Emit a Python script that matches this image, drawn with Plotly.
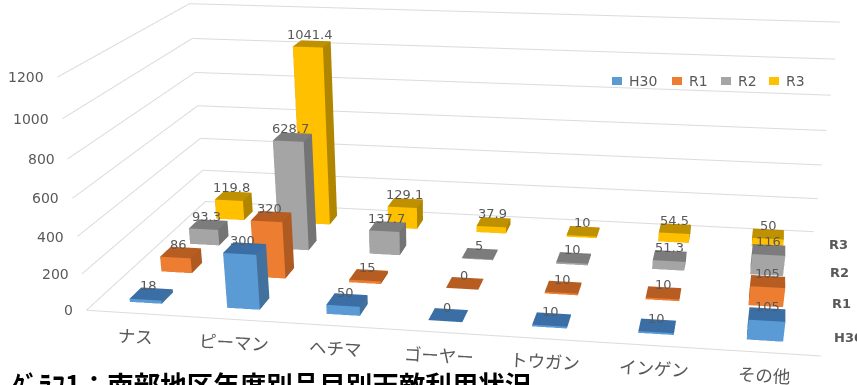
import numpy as np
import plotly.graph_objects as go

categories = ["ナス", "ピーマン", "ヘチマ", "ゴーヤー", "トウガン", "インゲン", "その他"]
series_names = ["H30", "R1", "R2", "R3"]
h30 = [18, 300, 50, 0, 10, 10, 105]
r1 = [86, 320, 15, 0, 10, 10, 105]
r2 = [93.3, 628.7, 137.7, 5, 10, 51.3, 116]
r3 = [119.8, 1041.4, 129.1, 37.9, 10, 54.5, 50]
z_ticks = [0, 200, 400, 600, 800, 1000, 1200]
title_text = "ｸﾞﾗﾌ1：南部地区年度別品目別天敵利用状況"

series_values = [h30, r1, r2, r3]
front_colors = ["#5B9BD5", "#ED7D31", "#A5A5A5", "#FFC000"]
top_colors = ["#3A6EA5", "#B85D22", "#7C7C7C", "#BF9000"]
side_colors = ["#41719C", "#AE5A21", "#747474", "#B08600"]

PAGE_W, PAGE_H = 857, 1300
TEXT_GREY = "#595959"
GRID_GREY = "#DBDBDB"
NUM_FONT = "DejaVu Sans"
JP_FONT = "Noto Sans CJK JP"
BAR_W, BAR_D = 0.33, 0.36
LEGEND_ICON_X = [612, 672, 721, 769]
LEGEND_MID_Y = 81


def px(pixel_x):
    return pixel_x / PAGE_W


def py(pixel_y):
    """Paper fraction for a distance from the top of the page."""
    return 1 - pixel_y / PAGE_H


def bar_mesh(values, front, top, side):
    xs, ys, zs, i, j, k, colors = [], [], [], [], [], [], []
    quads = [((0, 1, 5, 4), front), ((4, 5, 6, 7), top), ((1, 2, 6, 5), side),
             ((0, 3, 7, 4), side), ((3, 2, 6, 7), side)]
    for cx, cy, h in values:
        x0, x1 = cx - BAR_W / 2, cx + BAR_W / 2
        y0, y1 = cy - BAR_D / 2, cy + BAR_D / 2
        base = len(xs)
        xs += [x0, x1, x1, x0, x0, x1, x1, x0]
        ys += [y0, y0, y1, y1, y0, y0, y1, y1]
        zs += [0, 0, 0, 0, h, h, h, h]
        for (a, b, c, d), col in quads:
            i += [base + a, base + a]
            j += [base + b, base + c]
            k += [base + c, base + d]
            colors += [col, col]
    return dict(x=xs, y=ys, z=zs, i=i, j=j, k=k, facecolor=colors)


fig = go.Figure()

# gridlines run along the left wall and then the back wall
for t in z_ticks:
    fig.add_trace(go.Scatter3d(x=[0, 0, 7], y=[0, 4, 4], z=[t, t, t], mode="lines",
                               line=dict(color=GRID_GREY, width=2), hoverinfo="skip",
                               showlegend=False))
fig.add_trace(go.Scatter3d(x=[0, 7], y=[0, 0], z=[0, 0], mode="lines",
                           line=dict(color=GRID_GREY, width=2), hoverinfo="skip",
                           showlegend=False))

labels = []
for s, (name, vals) in enumerate(zip(series_names, series_values)):
    cells = [(c + 0.5, s + 0.5, v) for c, v in enumerate(vals)]
    fig.add_trace(go.Mesh3d(
        **bar_mesh(cells, front_colors[s], top_colors[s], side_colors[s]),
        name=name, flatshading=True, showscale=False, hoverinfo="skip",
        lighting=dict(ambient=1, diffuse=0, specular=0, fresnel=0, roughness=1),
    ))
    for cx, cy, v in cells:
        labels.append(dict(x=cx, y=cy - 0.08, z=v, text=f"{v:g}", showarrow=False,
                           yanchor="bottom", yshift=1,
                           font=dict(family=NUM_FONT, size=13, color=TEXT_GREY)))

# value-axis labels on the front corner of the left wall
for t in z_ticks:
    labels.append(dict(x=0, y=0, z=t, text=str(t), showarrow=False, xanchor="right", xshift=-11,
                       font=dict(family=NUM_FONT, size=14, color=TEXT_GREY)))
# category labels along the front edge
for c, cat in enumerate(categories):
    labels.append(dict(x=c + 0.5, y=0, z=0, text=cat, showarrow=False, yshift=-22, textangle=3,
                       font=dict(family=JP_FONT, size=17.5, color=TEXT_GREY)))
# series labels along the right edge
for s, name in enumerate(series_names):
    labels.append(dict(x=7, y=s + 0.5, z=0, text=f"<b>{name}</b>", showarrow=False,
                       xanchor="left", xshift=12,
                       font=dict(family=NUM_FONT, size=13, color=TEXT_GREY)))

# camera: eye position and gaze direction, the up vector made orthogonal to the gaze
eye = np.array([1.1812, -7.2215, 1.8979])
gaze = np.array([-216.98, 1111.49, -704.90]) - eye
gaze = gaze / np.linalg.norm(gaze)
center = eye + gaze * 7.5
up = np.array([-37.98, 198.62, 1.0])
up = up - (up @ gaze) * gaze
up = up / np.linalg.norm(up)


def xyz(v):
    return dict(x=float(v[0]), y=float(v[1]), z=float(v[2]))


# colour key in the upper right of the plot
key_shapes, key_text = [], []
for name, color, left in zip(series_names, front_colors, LEGEND_ICON_X):
    key_shapes.append(dict(type="rect", xref="paper", yref="paper", layer="above",
                           x0=px(left), x1=px(left + 10),
                           y0=py(LEGEND_MID_Y + 4), y1=py(LEGEND_MID_Y - 4),
                           fillcolor=color, line_width=0))
    key_text.append(dict(xref="paper", yref="paper", x=px(left + 15), y=py(LEGEND_MID_Y),
                         xanchor="left", yanchor="middle", text=name, showarrow=False,
                         font=dict(family=NUM_FONT, size=14, color=TEXT_GREY)))

hidden = dict(showgrid=False, zeroline=False, showticklabels=False, ticks="", title="",
              showbackground=False, showspikes=False, showline=False)
fig.update_layout(
    width=PAGE_W, height=PAGE_H, margin=dict(l=0, r=0, t=0, b=0),
    paper_bgcolor="white", showlegend=False,
    scene=dict(
        domain=dict(x=[0, 1], y=[0, 1]),
        aspectmode="manual", aspectratio=dict(x=3.2104, y=1.7364, z=1.0),
        camera=dict(eye=xyz(eye), center=xyz(center), up=xyz(up),
                    projection=dict(type="perspective")),
        xaxis=dict(hidden, range=[0, 7]),
        yaxis=dict(hidden, range=[0, 4]),
        zaxis=dict(hidden, range=[0, 1200], tickvals=z_ticks),
        annotations=labels,
    ),
    shapes=key_shapes,
    annotations=key_text + [dict(xref="paper", yref="paper", x=px(10), y=py(362), xanchor="left",
                                 yanchor="top", text=f"<b>{title_text}</b>", showarrow=False,
                                 font=dict(family=JP_FONT, size=26.5, color="black"))],
)
fig.write_html("out.html", post_script="document.body.style.overflow='hidden';")
